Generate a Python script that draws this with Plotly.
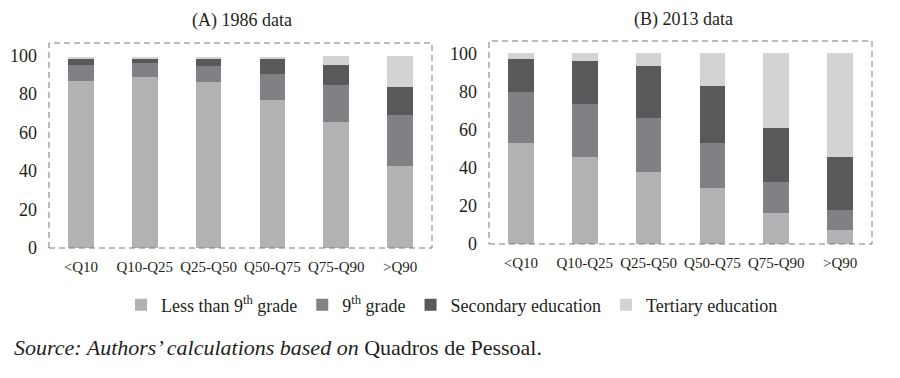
import plotly.graph_objects as go

categories = ["<Q10", "Q10-Q25", "Q25-Q50", "Q50-Q75", "Q75-Q90", ">Q90"]
series_names = ["Less than 9<sup>th</sup> grade", "9<sup>th</sup> grade",
                "Secondary education", "Tertiary education"]
series_colors = ["#b1b2b4", "#808184", "#58595b", "#d1d3d4"]

less9_1986 = [86.9, 88.8, 86.0, 76.8, 65.4, 42.6]
ninth_1986 = [8.4, 7.2, 8.5, 13.7, 19.2, 26.6]
secondary_1986 = [3.1, 2.4, 3.9, 7.8, 10.7, 14.7]
tertiary_1986 = [0.9, 0.9, 0.9, 1.0, 4.2, 15.6]

less9_2013 = [52.9, 45.9, 37.7, 29.2, 16.3, 7.5]
ninth_2013 = [27.1, 27.7, 28.4, 23.8, 16.2, 10.6]
secondary_2013 = [17.0, 22.2, 27.3, 30.0, 28.5, 27.5]
tertiary_2013 = [3.0, 4.2, 6.6, 17.0, 39.0, 54.4]

y_ticks = [0, 20, 40, 60, 80, 100]
panel_titles = ["(A) 1986 data", "(B) 2013 data"]

FONT = "Liberation Serif, Times New Roman, serif"
TXT = "#231f20"

# the page body has an 8px default margin; work in screen pixels and convert
OFF = 8
W, H = 900 - OFF, 378 - OFF


def px_x(s):
    return (s - OFF) / W


def px_y(s):
    return 1 - (s - OFF) / H


tick_text = [c.replace("<", "&lt;").replace(">", "&gt;") for c in categories]

fig = go.Figure()
panels = [
    ([less9_1986, ninth_1986, secondary_1986, tertiary_1986], "x", "y", True),
    ([less9_2013, ninth_2013, secondary_2013, tertiary_2013], "x2", "y2", False),
]
for data, xa, ya, show in panels:
    for name, vals, col in zip(series_names, data, series_colors):
        fig.add_trace(go.Bar(
            x=categories, y=vals, name=name, marker=dict(color=col, line=dict(width=0)),
            xaxis=xa, yaxis=ya, showlegend=show, legendgroup=name,
        ))

axis_common_x = dict(
    type="category", tickmode="array", tickvals=categories, ticktext=tick_text,
    showline=False, showgrid=False, zeroline=False, ticks="", automargin=False,
    ticklabelstandoff=8,
    tickfont=dict(family=FONT, size=15, color=TXT), fixedrange=True,
)
axis_common_y = dict(
    range=[0, 106.5], tickvals=y_ticks, showline=False, showgrid=False, zeroline=False,
    ticks="", ticklabelstandoff=11, automargin=False,
    tickfont=dict(family=FONT, size=18, color=TXT),
)

fig.update_layout(
    width=W, height=H,
    margin=dict(l=0, r=0, t=0, b=0, autoexpand=False),
    paper_bgcolor="white", plot_bgcolor="white",
    barmode="stack", bargap=0.6,
    font=dict(family=FONT, color=TXT),
    xaxis=dict(domain=[px_x(49), px_x(432)], anchor="y", **axis_common_x),
    yaxis=dict(domain=[px_y(248), px_y(43)], anchor="x", **axis_common_y),
    xaxis2=dict(domain=[px_x(489), px_x(872)], anchor="y2", **axis_common_x),
    yaxis2=dict(domain=[px_y(244), px_y(41)], anchor="x2", **axis_common_y),
    legend=dict(orientation="h", x=px_x(452), xanchor="center", y=px_y(305), yanchor="middle",
                font=dict(family=FONT, size=18, color=TXT), traceorder="normal",
                itemclick=False, itemdoubleclick=False, itemwidth=30),
    showlegend=True,
)

# dashed frames around plot areas
for xr, yr in [("x domain", "y domain"), ("x2 domain", "y2 domain")]:
    fig.add_shape(type="rect", xref=xr, yref=yr, x0=0, x1=1, y0=0, y1=1,
                  line=dict(color="#7a7a7a", width=1, dash="6px,4px"), layer="above")

fig.add_annotation(text=panel_titles[0], xref="paper", yref="paper", x=px_x(242), y=px_y(20),
                   xanchor="center", yanchor="middle", showarrow=False,
                   font=dict(family=FONT, size=18, color=TXT))
fig.add_annotation(text=panel_titles[1], xref="paper", yref="paper", x=px_x(683), y=px_y(19),
                   xanchor="center", yanchor="middle", showarrow=False,
                   font=dict(family=FONT, size=18, color=TXT))
fig.add_annotation(text="<i>Source: Authors’ calculations based on</i> Quadros de Pessoal.",
                   xref="paper", yref="paper", x=px_x(12), y=px_y(347),
                   xanchor="left", yanchor="middle", showarrow=False,
                   font=dict(family=FONT, size=22, color=TXT))

fig.write_html("out.html")
